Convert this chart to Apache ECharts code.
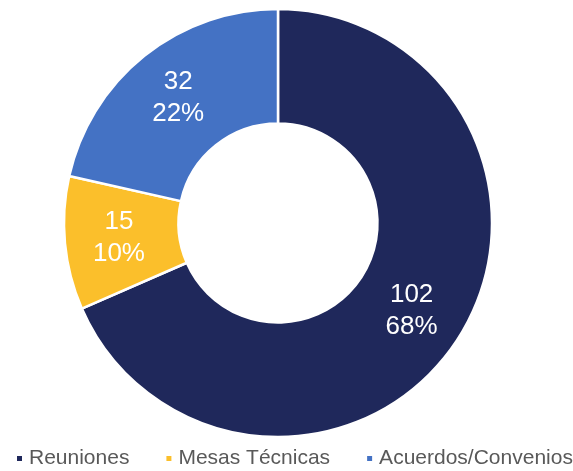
<!DOCTYPE html>
<html><head><meta charset="utf-8">
<script src="https://cdn.jsdelivr.net/npm/echarts@6/dist/echarts.min.js"></script>
<style>html,body{margin:0;padding:0;background:#fff}#c{width:573px;height:471px}</style>
</head><body><div id="c"></div>
<script>
const categories = ["Reuniones", "Mesas Técnicas", "Acuerdos/Convenios"];
const values = [102, 15, 32];
const colors = ["#1F285B", "#FBBF2B", "#4472C4"];
const chart = echarts.init(document.getElementById('c'), null, {renderer: 'canvas'});
chart.setOption({
  animation: false,
  legend: {
    top: 448, left: 15, padding: 0, width: 700,
    itemWidth: 7, itemHeight: 7, itemGap: 35, icon: 'rect',
    textStyle: {fontFamily: 'Liberation Sans, Arial', fontSize: 21, color: '#595959', padding: [0,0,0,1]},
    data: categories
  },
  series: [{
    type: 'pie',
    center: [278, 223],
    radius: [99.5, 214],
    startAngle: 90,
    clockwise: true,
    percentPrecision: 0,
    itemStyle: {borderColor: '#fff', borderWidth: 2.5},
    label: {
      position: 'inside', formatter: '{c}\n{d}%',
      color: '#fff', fontFamily: 'Liberation Sans, Arial', fontSize: 26, lineHeight: 32
    },
    labelLine: {show: false},
    data: categories.map((n, i) => ({name: n, value: values[i], itemStyle: {color: colors[i]}}))
  }]
});
</script></body></html>
